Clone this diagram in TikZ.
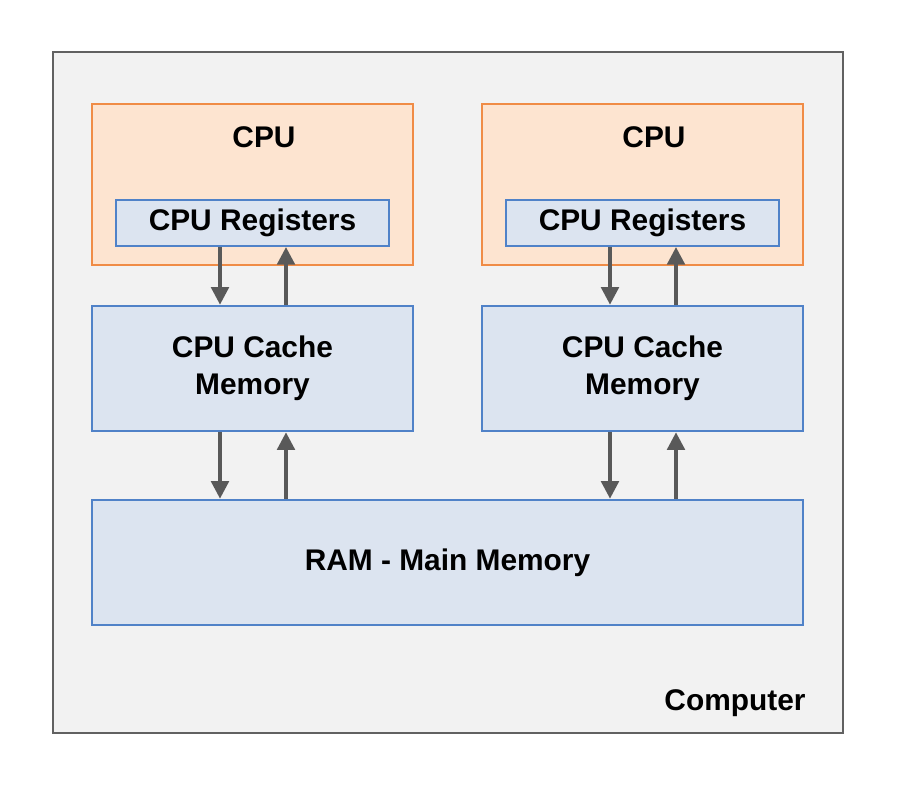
\documentclass[tikz,border=0pt]{standalone}
\usepackage{fontspec}
\setmainfont{Liberation Sans}
\usetikzlibrary{positioning,arrows.meta}
\definecolor{cpuedge}{RGB}{240,140,70}
\definecolor{cpufill}{RGB}{253,228,208}
\definecolor{memedge}{RGB}{80,130,200}
\definecolor{memfill}{RGB}{220,228,240}
\definecolor{boxgray}{RGB}{242,242,242}
\begin{document}
\begin{tikzpicture}[x=0.02cm,y=-0.02cm,
    cpu/.style={draw=cpuedge, fill=cpufill, line width=1.5pt},
    mem/.style={draw=memedge, fill=memfill, line width=1.5pt, align=center, font=\fontsize{17}{21}\selectfont\bfseries},
    flow/.style={-{Triangle[length=10pt,width=10pt]}, line width=2pt, draw=black!65}
]
    \useasboundingbox (0,0) rectangle (904,796);
    \fill[white] (0,0) rectangle (904,796);
    \draw[boxgray!40!black, fill=boxgray, line width=1.5pt] (53,52) rectangle (843,733);
    \node[anchor=center, font=\fontsize{17}{20}\selectfont\bfseries] (comp) at (735,703) {Computer};

    \foreach \x/\n in {0/a,390/b} {
        \draw[cpu] (92+\x,104) rectangle (413+\x,265);
        \node[font=\fontsize{17}{20}\selectfont\bfseries] (cpu\n) at (264+\x,137) {CPU};
        \node[mem, minimum width=273*0.02cm, minimum height=46*0.02cm, line width=1.2pt] (reg\n) at (252.5+\x,223) {CPU Registers};
        \node[mem, minimum width=321*0.02cm, minimum height=125*0.02cm] (cache\n) at (252.5+\x,368.5) {CPU Cache\\Memory};
        \coordinate (dn\n) at (220+\x,0);
        \coordinate (up\n) at (286+\x,0);
    }
    \node[mem, minimum width=711*0.02cm, minimum height=125*0.02cm] (ram) at (447.5,562.5) {RAM - Main Memory};

    \foreach \n in {a,b} {
        \draw[flow] (reg\n.south -| dn\n) -- (cache\n.north -| dn\n);
        \draw[flow] (cache\n.north -| up\n) -- (reg\n.south -| up\n);
        \draw[flow] (cache\n.south -| dn\n) -- (ram.north -| dn\n);
        \draw[flow] (ram.north -| up\n) -- (cache\n.south -| up\n);
    }
\end{tikzpicture}
\end{document}
